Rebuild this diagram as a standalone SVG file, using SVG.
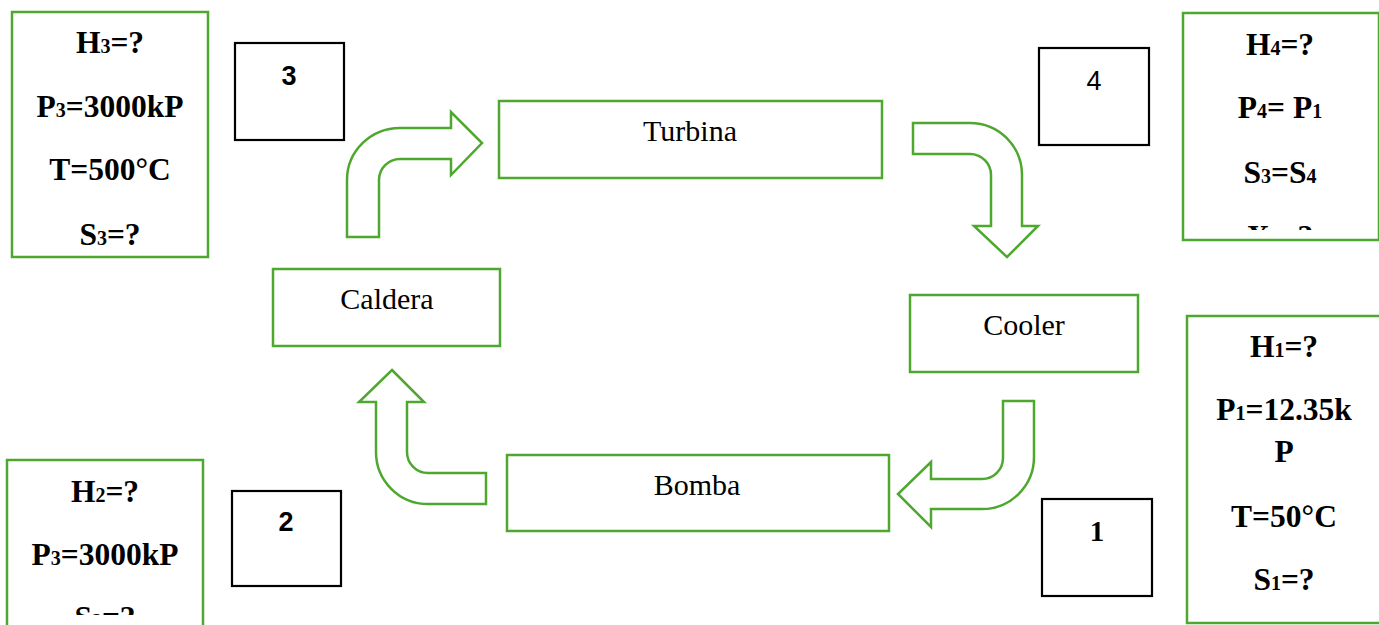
<svg xmlns="http://www.w3.org/2000/svg" width="1379" height="625" viewBox="0 0 1379 625">
<style>
.g{fill:#fff;stroke:#4EA72E;stroke-width:2.5}
.k{fill:#fff;stroke:#000;stroke-width:2.2}
.lbl{font-family:"Liberation Serif","Times New Roman",serif;font-size:30px;fill:#000;text-anchor:middle}
.st{font-family:"Liberation Serif","Times New Roman",serif;font-size:31.5px;font-weight:bold;fill:#000;text-anchor:middle}
.sub{font-size:20px}
.num{font-family:"Liberation Sans",Arial,sans-serif;font-size:27px;fill:#000;text-anchor:middle}
</style>
<defs>
<clipPath id="c4"><rect x="1183" y="13" width="196" height="217"/></clipPath>
<clipPath id="c2"><rect x="0" y="460" width="210" height="155"/></clipPath>
</defs>
<rect width="1379" height="625" fill="#fff"/>
<g id="connectors">
<path class="g" d="M347,237 L347,180 A53,52 0 0 1 400,128 L451,128 L451,112 L482,143 L451,175 L451,159 L400,159 A21,21 0 0 0 379,180 L379,237 Z"/>
<path class="g" d="M913,123 L970,123 A52,52 0 0 1 1022,175 L1022,226 L1038,226 L1007,257 L974,226 L991,226 L991,175 A21,21 0 0 0 970,154 L913,154 Z"/>
<path class="g" d="M392,370 L424,402 L407,402 L407,452 A21,21 0 0 0 428,473 L486,473 L486,504 L428,504 A52,52 0 0 1 376,452 L376,402 L359,402 Z"/>
<path class="g" d="M1003,401 L1034,401 L1034,457 A52,52 0 0 1 982,509 L931,509 L931,527 L898,494 L931,462 L931,479 L982,479 A21,21 0 0 0 1003,458 Z"/>
</g>
<g id="turbina"><rect class="g" x="499" y="101" width="383" height="77"/><text class="lbl" x="690" y="141">Turbina</text></g>
<g id="caldera"><rect class="g" x="273" y="269" width="227" height="77"/><text class="lbl" x="387" y="309">Caldera</text></g>
<g id="cooler"><rect class="g" x="910" y="295" width="228" height="77"/><text class="lbl" x="1024" y="335">Cooler</text></g>
<g id="bomba"><rect class="g" x="507" y="455" width="382" height="76"/><text class="lbl" x="697" y="495">Bomba</text></g>
<g id="state3">
<rect class="g" x="12" y="12" width="196" height="245"/>
<text class="st" x="110" y="53">H<tspan class="sub">3</tspan>=?</text>
<text class="st" x="110" y="117">P<tspan class="sub">3</tspan>=3000kP</text>
<text class="st" x="110" y="180">T=500°C</text>
<text class="st" x="110" y="245">S<tspan class="sub">3</tspan>=?</text>
</g>
<g id="label3"><rect class="k" x="235" y="43" width="109" height="97"/><text class="num" x="289" y="85" font-weight="bold">3</text></g>
<g id="label4"><rect class="k" x="1039" y="48" width="110" height="97"/><text class="num" x="1094" y="90">4</text></g>
<g id="state4">
<rect class="g" x="1183" y="13" width="196" height="227"/>
<g clip-path="url(#c4)">
<text class="st" x="1280" y="55">H<tspan class="sub">4</tspan>=?</text>
<text class="st" x="1280" y="118">P<tspan class="sub">4</tspan>= P<tspan class="sub">1</tspan></text>
<text class="st" x="1280" y="183">S<tspan class="sub">3</tspan>=S<tspan class="sub">4</tspan></text>
<text class="st" x="1280" y="247">X<tspan class="sub">4</tspan>=?</text>
</g>
</g>
<g id="state1">
<rect class="g" x="1187" y="316" width="196" height="307"/>
<text class="st" x="1284" y="357">H<tspan class="sub">1</tspan>=?</text>
<text class="st" x="1284" y="420">P<tspan class="sub">1</tspan>=12.35k</text>
<text class="st" x="1284" y="462">P</text>
<text class="st" x="1284" y="527">T=50°C</text>
<text class="st" x="1284" y="590">S<tspan class="sub">1</tspan>=?</text>
</g>
<g id="label1"><rect class="k" x="1042" y="499" width="110" height="97"/><text class="st" x="1097" y="541" style="font-size:29px">1</text></g>
<g id="state2">
<rect class="g" x="7" y="460" width="196" height="180"/>
<g clip-path="url(#c2)">
<text class="st" x="105" y="502">H<tspan class="sub">2</tspan>=?</text>
<text class="st" x="105" y="565">P<tspan class="sub">3</tspan>=3000kP</text>
<text class="st" x="105" y="628">S<tspan class="sub">2</tspan>=?</text>
</g>
</g>
<g id="label2"><rect class="k" x="232" y="491" width="109" height="95"/><text class="num" x="286" y="531" font-weight="bold">2</text></g>
</svg>
